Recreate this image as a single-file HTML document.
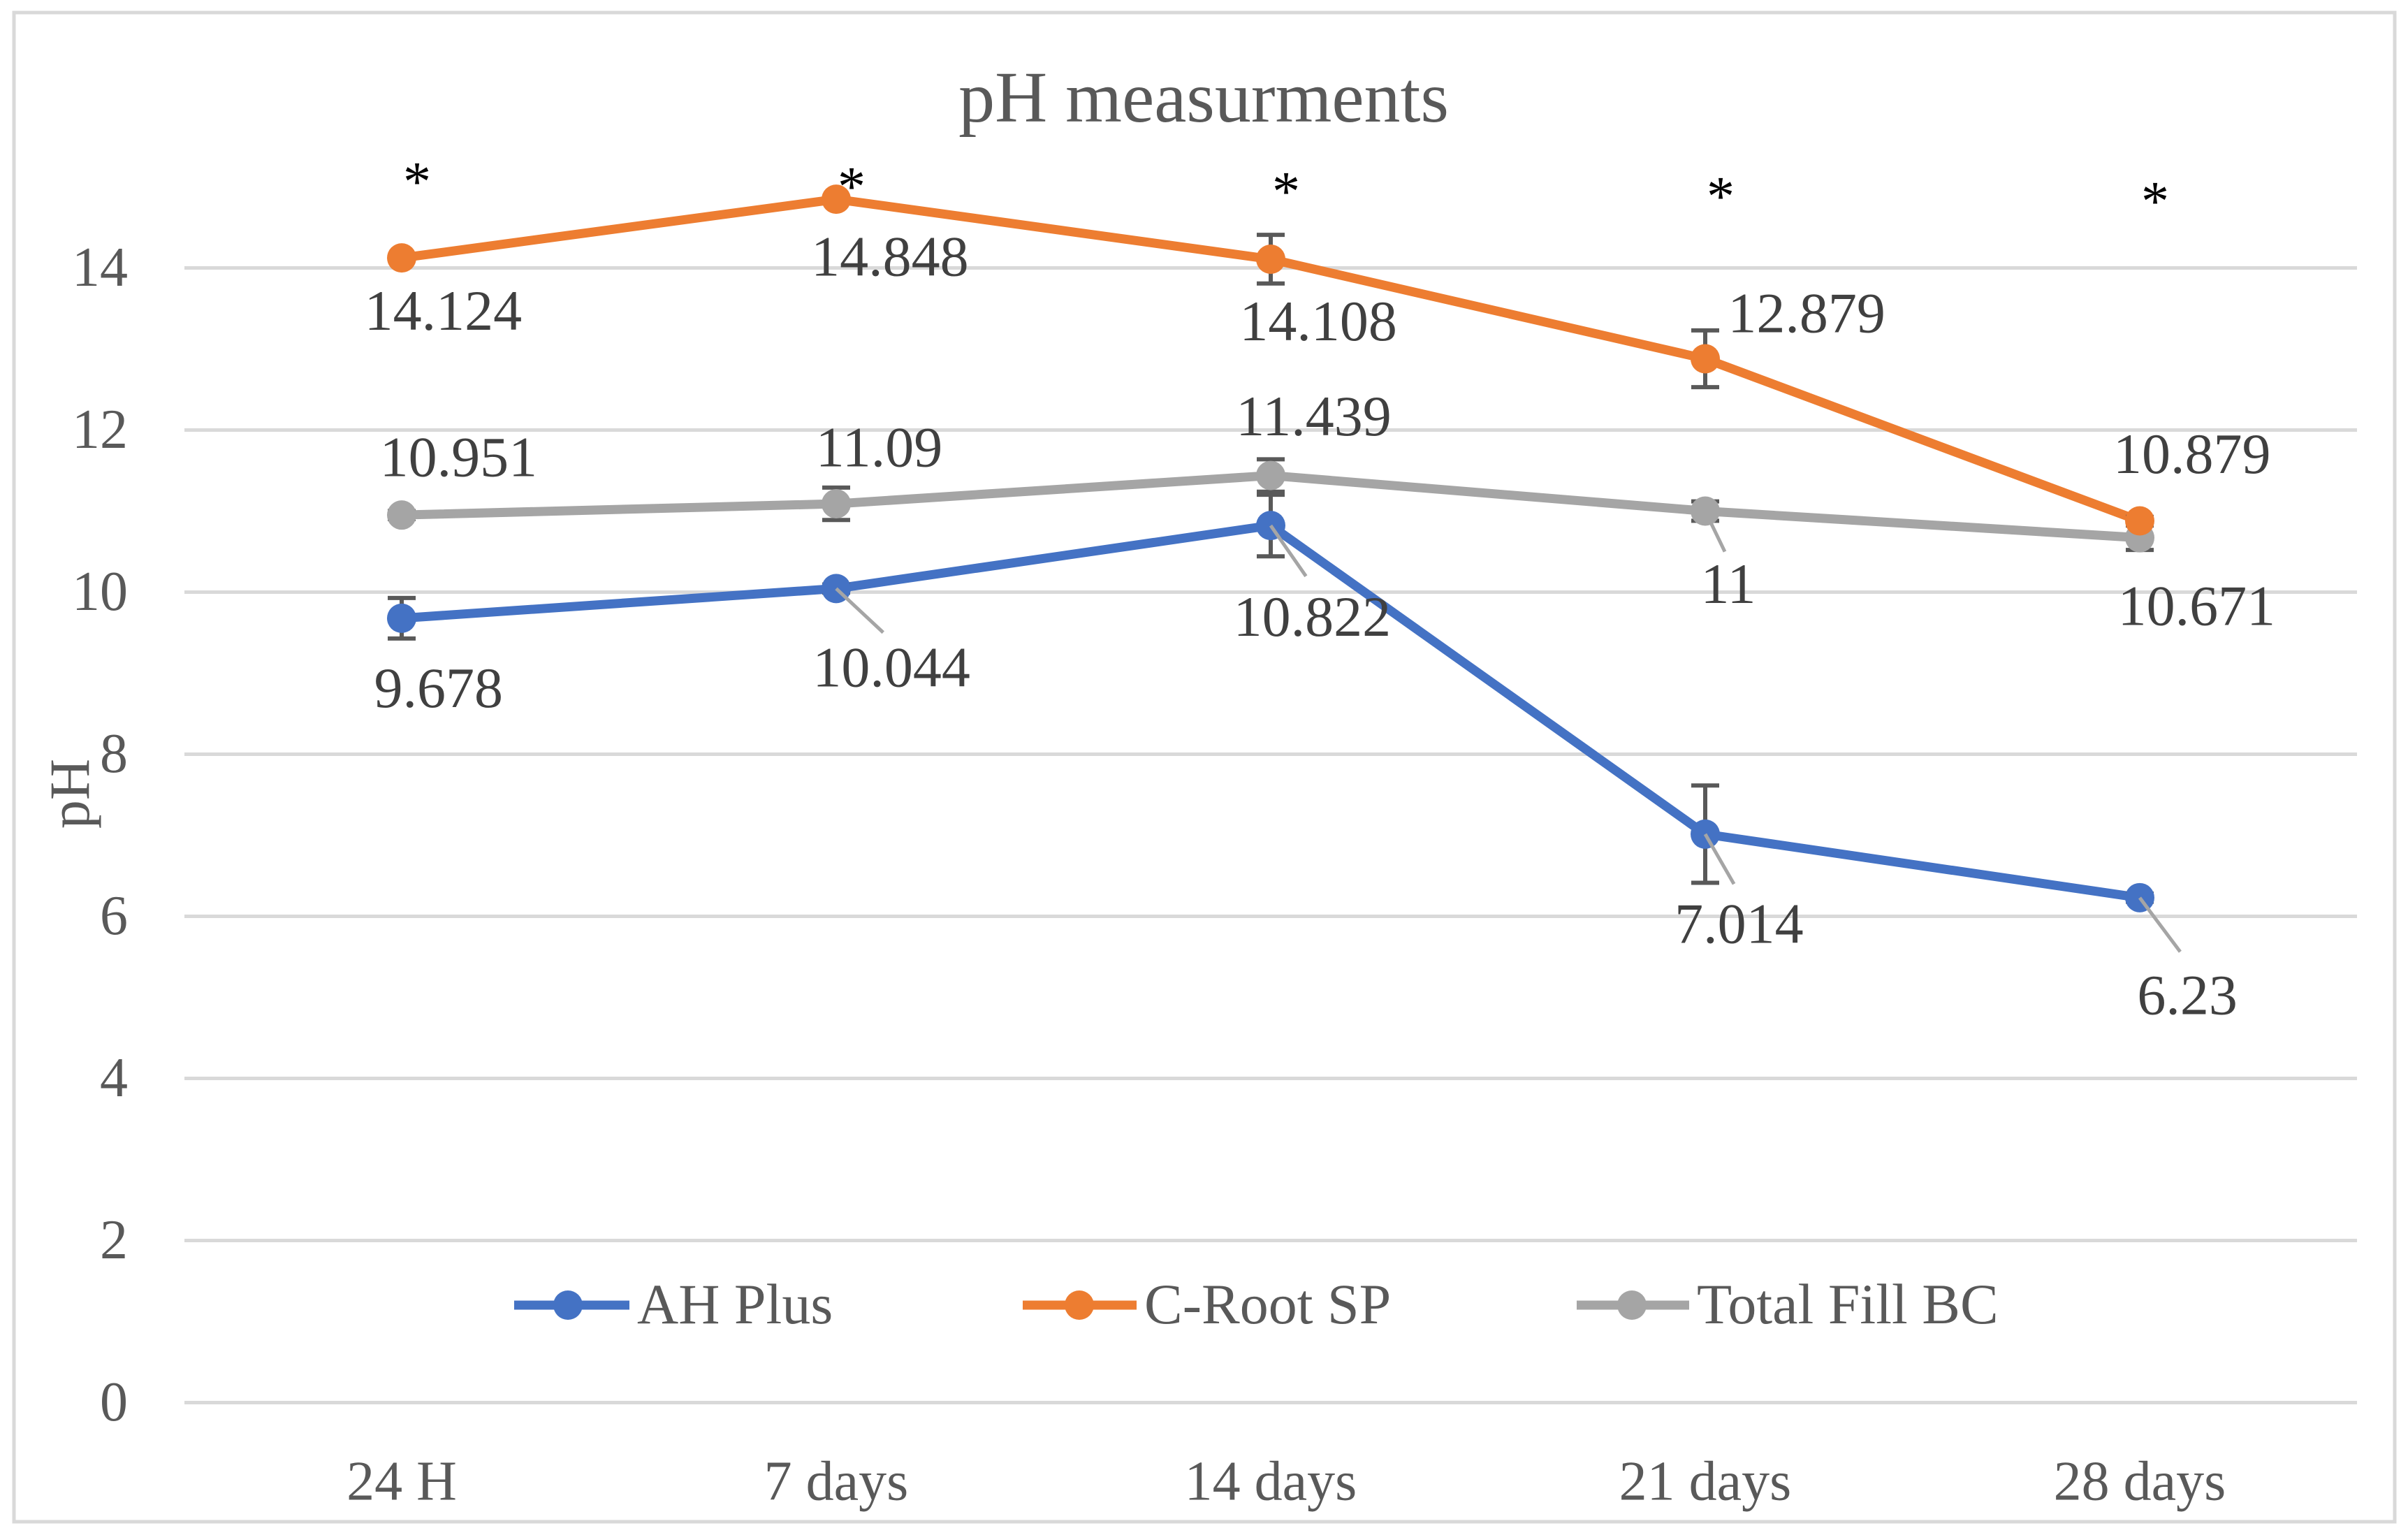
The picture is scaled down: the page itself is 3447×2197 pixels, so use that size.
<!DOCTYPE html>
<html><head><meta charset="utf-8"><style>
html,body{margin:0;padding:0;background:#fff;}
svg{display:block;font-family:"Liberation Serif",serif;}
</style></head><body>
<svg id="chart" width="3447" height="2197" viewBox="0 0 3447 2197" xmlns="http://www.w3.org/2000/svg">
<rect x="20" y="18" width="3408" height="2160" fill="#fff" stroke="#d9d9d9" stroke-width="5"/>
<text x="1723" y="150" font-size="104" fill="#595959" text-anchor="middle" dominant-baseline="middle">pH measurments</text>
<text transform="translate(108,1136) rotate(-90)" font-size="82" fill="#595959" text-anchor="middle" dominant-baseline="middle">pH</text>
<g id="grid"></g><g id="series"></g><g id="labels"></g>
</svg>
<script>
const categories = ["24 H","7 days","14 days","21 days","28 days"];
const yTicks = [0,2,4,6,8,10,12,14];
const seriesNames = ["AH Plus","C-Root SP","Total Fill BC"];
const ahPlus = [9.678,10.044,10.822,7.014,6.23];
const cRoot = [14.124,14.848,14.108,12.879,10.879];
const totalFill = [10.951,11.09,11.439,11,10.671];
const ahErr = [0.25,0.05,0.38,0.6,0.05];
const cRootErr = [0.03,0.03,0.3,0.35,0.05];
const tfErr = [0.05,0.2,0.2,0.12,0.15];
const ahLabels = ["9.678","10.044","10.822","7.014","6.23"];
const cRootLabels = ["14.124","14.848","14.108","12.879","10.879"];
const tfLabels = ["10.951","11.09","11.439","11","10.671"];
const starLabels = ["*","*","*","*","*"];

const NS="http://www.w3.org/2000/svg";
const plotL=264, plotR=3374, y0=2007.5, pxPerUnit=116;
const band=(plotR-plotL)/categories.length;
const TY=7;
function xPos(i){return plotL+band*(i+0.5);}
function yPos(v){return y0-v*pxPerUnit;}
function mk(tag,attrs,parent){const e=document.createElementNS(NS,tag);for(const k in attrs)e.setAttribute(k,attrs[k]);parent.appendChild(e);return e;}
const grid=document.getElementById('grid'),ser=document.getElementById('series'),lab=document.getElementById('labels');

yTicks.forEach(t=>{
  const l=mk('line',{x1:plotL,x2:plotR,y1:yPos(t),y2:yPos(t),stroke:'#d9d9d9','stroke-width':5},grid);
  
  
  const tx=mk('text',{x:183,y:yPos(t)+TY,'font-size':80,fill:'#595959','text-anchor':'end','dominant-baseline':'middle'},grid);
  tx.textContent=t;
  
  
});
categories.forEach((c,i)=>{
  const tx=mk('text',{x:xPos(i),y:2121+TY,'font-size':80,fill:'#595959','text-anchor':'middle','dominant-baseline':'middle'},grid);
  tx.textContent=c;
  
  
  const st=mk('text',{x:xPos(i)+22,y:268+i*7,'font-size':80,fill:'#000','text-anchor':'middle','dominant-baseline':'middle'},grid);
  st.textContent=starLabels[i];
  
  
});

const S=2.198;
const seriesDefs=[
 {vals:totalFill,err:tfErr,lbl:tfLabels,color:'#a5a5a5',key:'total-fill-bc',off:[[37,-37],[28,-36],[28,-38],[15,48],[37,45]],lead:[false,false,false,true,false]},
 {vals:ahPlus,err:ahErr,lbl:ahLabels,color:'#4472c4',key:'ah-plus',off:[[24,46],[36,52],[27,60],[22,59],[31,64]],lead:[false,true,true,true,true]},
 {vals:cRoot,err:cRootErr,lbl:cRootLabels,color:'#ed7d31',key:'c-root-sp',off:[[27,35],[35,38],[31,41],[66,-29],[34,-43]],lead:[false,false,false,false,false]}
];
seriesDefs.forEach(s=>{
  const pts=s.vals.map((v,i)=>xPos(i)+','+yPos(v)).join(' ');
  const pl=mk('polyline',{points:pts,fill:'none',stroke:s.color,'stroke-width':13,'stroke-linejoin':'round'},ser);
  
  
  s.vals.forEach((v,i)=>{
    const x=xPos(i),y=yPos(v),e=s.err[i]*pxPerUnit;
    const g=mk('g',{},ser);
    
    
    mk('line',{x1:x,x2:x,y1:y-e,y2:y+e,stroke:'#595959','stroke-width':6},g);
    mk('line',{x1:x-20,x2:x+20,y1:y-e,y2:y-e,stroke:'#595959','stroke-width':6},g);
    mk('line',{x1:x-20,x2:x+20,y1:y+e,y2:y+e,stroke:'#595959','stroke-width':6},g);
    const c=mk('circle',{cx:x,cy:y,r:21,fill:s.color},ser);
    
    
    const dx=s.off[i][0]*S,dy=s.off[i][1]*S;
    if(s.lead[i]){
      const ll=mk('line',{x1:x,y1:y,x2:x+dx*0.85,y2:y+dy*0.55,stroke:'#a5a5a5','stroke-width':5},lab);
      
      
    }
    const t=mk('text',{x:x+dx,y:y+dy+TY,'font-size':82,fill:'#404040','text-anchor':'middle','dominant-baseline':'middle'},lab);
    t.textContent=s.lbl[i];
    
    
  });
});

const legX=[[736,901,813,912],[1464,1627,1545,1638],[2257,2418,2336,2429]];
const legColors=['#4472c4','#ed7d31','#a5a5a5'];
seriesNames.forEach((n,i)=>{
  const g=mk('g',{},lab);
  
  
  const ly=1868;
  mk('line',{x1:legX[i][0],x2:legX[i][1],y1:ly,y2:ly,stroke:legColors[i],'stroke-width':13},g);
  mk('circle',{cx:legX[i][2],cy:ly,r:21,fill:legColors[i]},g);
  const t=mk('text',{x:legX[i][3],y:ly+TY,'font-size':82,fill:'#595959','dominant-baseline':'middle'},g);
  t.textContent=n;
});
</script>
</body></html>
